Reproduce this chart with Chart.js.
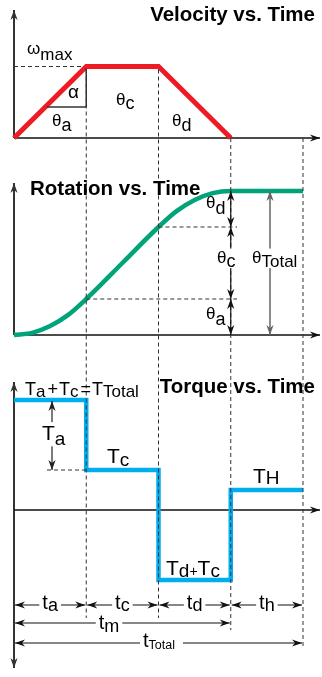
<!DOCTYPE html>
<html lang="en">
<head>
<meta charset="UTF-8">
<title>Velocity, Rotation and Torque vs. Time</title>
<script src="https://cdn.jsdelivr.net/npm/chart.js"></script>
<style>
  html, body { margin: 0; padding: 0; background: #fff; }
  #motion { display: block; }
</style>
</head>
<body>
<canvas id="motion" width="322" height="677"></canvas>
<script>
// phase boundaries: start, end of accel, end of constant speed, end of decel, end of hold
const phaseTimes = [0, 1, 2, 3, 4];

// velocity in units of ωmax
const velocityTimes = [0, 1, 2, 3];
const velocityValues = [0, 1, 1, 0];

// rotation: θa = 0.5, θc = 1, θd = 0.5, θTotal = 2
const rotationTimes = [0, 0.25, 0.5, 0.75, 1, 1.5, 2, 2.25, 2.5, 2.75, 3, 4];
const rotationValues = [0, 0.03, 0.125, 0.28, 0.5, 1, 1.5, 1.72, 1.875, 1.97, 2, 2];

// torque levels: TTotal, Tc, -(Td+Tc), TH
const torqueTimes = [0, 1, 2, 3, 4];
const torqueValues = [11, 4, -7, 2, 2];

const phaseLabels = [['t', 'a'], ['t', 'c'], ['t', 'd'], ['t', 'h']];

const FONT = '"Liberation Sans", Arial, sans-serif';
const H = 677;

function toPoints(xs, ys) {
  return xs.map((x, i) => ({ x: x, y: ys[i] }));
}

// min/max for an axis so that zero sits at zeroPx and one unit is unitPx tall
function band(zeroPx, unitPx) {
  return { min: -(H - zeroPx) / unitPx, max: zeroPx / unitPx };
}

function line(ctx, x1, y1, x2, y2, color, w, dash) {
  ctx.save();
  ctx.strokeStyle = color;
  ctx.lineWidth = w;
  ctx.setLineDash(dash || []);
  ctx.beginPath();
  ctx.moveTo(x1, y1);
  ctx.lineTo(x2, y2);
  ctx.stroke();
  ctx.restore();
}

function head(ctx, x, y, ang, color) {
  const len = 10, half = 3.6;
  ctx.save();
  ctx.fillStyle = color;
  ctx.translate(x, y);
  ctx.rotate(ang);
  ctx.beginPath();
  ctx.moveTo(0, 0);
  ctx.lineTo(-len, -half);
  ctx.lineTo(-len * 0.7, 0);
  ctx.lineTo(-len, half);
  ctx.closePath();
  ctx.fill();
  ctx.restore();
}

function arrow(ctx, x1, y1, x2, y2, color, w, both) {
  line(ctx, x1, y1, x2, y2, color, w);
  const a = Math.atan2(y2 - y1, x2 - x1);
  head(ctx, x2, y2, a, color);
  if (both) head(ctx, x1, y1, a + Math.PI, color);
}

// parts: [text, size, dy, weight, gapBefore]; x is left (or centre), y is baseline
function rich(ctx, parts, x, y, opts) {
  opts = opts || {};
  ctx.save();
  ctx.textBaseline = 'alphabetic';
  const widths = parts.map(p => {
    ctx.font = (p[3] || '') + ' ' + p[1] + 'px ' + FONT;
    return ctx.measureText(p[0]).width + (p[4] || 0);
  });
  const total = widths.reduce((a, b) => a + b, 0);
  let cx = opts.align === 'center' ? x - total / 2 : opts.align === 'right' ? x - total : x;
  if (opts.bg) {
    ctx.fillStyle = '#fff';
    ctx.fillRect(cx - opts.bg, y - parts[0][1] * 0.85, total + opts.bg * 2, parts[0][1] * 1.15);
  }
  ctx.fillStyle = opts.color || '#000';
  parts.forEach((p, i) => {
    ctx.font = (p[3] || '') + ' ' + p[1] + 'px ' + FONT;
    ctx.fillText(p[0], cx + (p[4] || 0), y + p[2]);
    cx += widths[i];
  });
  ctx.restore();
}

const diagram = {
  id: 'diagram',
  beforeDatasetsDraw(chart) {
    const ctx = chart.ctx;
    const X = v => chart.scales.x.getPixelForValue(v);
    const yV = v => chart.scales.yV.getPixelForValue(v);
    const yR = v => chart.scales.yR.getPixelForValue(v);
    const yT = v => chart.scales.yT.getPixelForValue(v);
    const x0 = X(0);
    const axisV = '#333', axisH = '#111';

    // velocity axes
    arrow(ctx, x0, yV(0), x0, 10, axisV, 2);
    arrow(ctx, x0, yV(0), 320, yV(0), axisH, 1.5);
    // rotation axes
    arrow(ctx, x0, yR(0), x0, 183, axisV, 2);
    arrow(ctx, x0, yR(0), 320, yR(0), axisH, 1.5);
    // torque axes
    arrow(ctx, x0, 668, x0, 382, axisV, 2, true);
    arrow(ctx, x0, yT(0), 320, yT(0), axisH, 1.5);
  },
  afterDatasetsDraw(chart) {
    const ctx = chart.ctx;
    const X = v => chart.scales.x.getPixelForValue(v);
    const yV = v => chart.scales.yV.getPixelForValue(v);
    const yR = v => chart.scales.yR.getPixelForValue(v);
    const yT = v => chart.scales.yT.getPixelForValue(v);
    const px = phaseTimes.map(X);
    const [x0, x1, x2, x3, x4] = px;
    const dash = [4, 3], dc = '#333';

    // phase boundaries
    line(ctx, x1, yV(1) + 3, x1, 618, dc, 1, dash);
    line(ctx, x2, yV(1) + 3, x2, 618, dc, 1, dash);
    line(ctx, x3, yV(0), x3, 630, dc, 1, dash);
    line(ctx, x4, yV(0), x4, 647, dc, 1, dash);

    // level guides
    line(ctx, x0, yV(1), x1 - 3, yV(1), dc, 1, dash);
    line(ctx, x1, yR(rotationValues[4]), 237, yR(rotationValues[4]), dc, 1, dash);
    line(ctx, x2, yR(rotationValues[6]), 237, yR(rotationValues[6]), dc, 1, dash);
    line(ctx, 47, yT(torqueValues[1]), x1, yT(torqueValues[1]), dc, 1, dash);

    // slope triangle
    line(ctx, x1, yV(1) + 2, x1, 107, '#333', 1.5);
    line(ctx, 47, 107, x1, 107, '#333', 1.5);

    // rotation arrows
    arrow(ctx, x3, yR(2), x3, yR(1.5), '#111', 1.2, true);
    arrow(ctx, x3, yR(1.5), x3, yR(0.5), '#111', 1.2, true);
    arrow(ctx, x3, yR(0.5), x3, yR(0), '#111', 1.2, true);
    arrow(ctx, 270, yR(2), 270, yR(0), '#666', 1.5, true);

    // torque Ta arrow
    arrow(ctx, 52, yT(torqueValues[0]) + 1, 52, yT(torqueValues[1]), '#222', 1.2, true);

    // time rows
    for (let i = 0; i < 4; i++) arrow(ctx, px[i] + 1, 605, px[i + 1] - 1, 605, '#111', 1.2, true);
    arrow(ctx, x0 + 1, 623, x3 - 1, 623, '#111', 1.2, true);
    arrow(ctx, x0 + 1, 643, x4 - 1, 643, '#111', 1.2, true);

    // titles
    rich(ctx, [['Velocity vs. Time', 20.5, 0, 'bold']], 315, 21, { align: 'right' });
    rich(ctx, [['Rotation vs. Time', 20.5, 0, 'bold']], 30, 195);
    rich(ctx, [['Torque vs. Time', 20.5, 0, 'bold']], 315, 393, { align: 'right' });

    // velocity labels
    rich(ctx, [['ω', 17, 0], ['max', 17, 6]], 27, 54);
    rich(ctx, [['α', 19, 0]], 68, 98);
    rich(ctx, [['θ', 17, 0], ['a', 18, 5]], 52, 126);
    rich(ctx, [['θ', 17, 0], ['c', 18, 4]], 116, 105);
    rich(ctx, [['θ', 17, 0], ['d', 18, 5]], 172, 126);

    // rotation labels
    rich(ctx, [['θ', 17, 0], ['d', 18, 6]], 206, 208);
    rich(ctx, [['θ', 17, 0], ['c', 18, 4]], 217, 263, { bg: 2 });
    rich(ctx, [['θ', 17, 0], ['Total', 17, 4]], 252, 263, { bg: 2 });
    rich(ctx, [['θ', 17, 0], ['a', 18, 6]], 206, 319);

    // torque labels
    rich(ctx, [['T', 18, 0], ['a', 17, 2], ['+', 18, 0, '', 2], ['T', 18, 0, '', 1], ['c', 17, 2],
               ['=', 18, 0, '', 2], ['T', 18, 0, '', 1], ['Total', 17, 2]], 25, 395);
    rich(ctx, [['T', 21, 0], ['a', 19, 5]], 42, 440, { bg: 1 });
    rich(ctx, [['T', 21, 0], ['c', 19, 3]], 107, 463);
    rich(ctx, [['T', 21, 0], ['H', 19, 1]], 253, 483);
    rich(ctx, [['T', 21, 0], ['d', 19, 2], ['+', 14, 1], ['T', 21, 0], ['c', 19, 2]], 166, 575);

    // time labels
    for (let i = 0; i < 4; i++) {
      const l = phaseLabels[i];
      rich(ctx, [[l[0], 20, 0], [l[1], 18, 2]], (px[i] + px[i + 1]) / 2, 609, { align: 'center', bg: 3 });
    }
    rich(ctx, [['t', 20, 0], ['m', 18, 3]], 109, 629, { align: 'center', bg: 3 });
    ctx.save();
    ctx.fillStyle = '#fff';
    ctx.fillRect(140, 636, 43, 14);
    ctx.restore();
    rich(ctx, [['t', 20, 0], ['Total', 12.5, 2]], 143, 647);
  }
};

new Chart(document.getElementById('motion'), {
  type: 'line',
  data: {
    datasets: [
      {
        label: 'Velocity',
        data: toPoints(velocityTimes, velocityValues),
        yAxisID: 'yV',
        borderColor: 'rgb(237, 28, 36)',
        borderWidth: 5,
        borderJoinStyle: 'miter',
        pointRadius: 0,
        tension: 0,
        clip: false
      },
      {
        label: 'Rotation',
        data: toPoints(rotationTimes, rotationValues),
        yAxisID: 'yR',
        borderColor: 'rgb(0, 163, 122)',
        borderWidth: 4.5,
        cubicInterpolationMode: 'monotone',
        pointRadius: 0,
        clip: false
      },
      {
        label: 'Torque',
        data: toPoints(torqueTimes, torqueValues),
        yAxisID: 'yT',
        borderColor: 'rgb(0, 174, 239)',
        borderWidth: 4.5,
        borderJoinStyle: 'miter',
        stepped: 'before',
        pointRadius: 0,
        clip: false
      }
    ]
  },
  options: {
    responsive: false,
    animation: false,
    events: [],
    layout: { padding: { left: 14, right: 19, top: 0, bottom: 0 } },
    plugins: { legend: { display: false }, tooltip: { enabled: false } },
    scales: {
      x: { type: 'linear', min: 0, max: 4, display: false },
      yV: Object.assign({ type: 'linear', display: false }, band(138, 71.5)),
      yR: Object.assign({ type: 'linear', display: false }, band(335, 72)),
      yT: Object.assign({ type: 'linear', display: false }, band(510, 10))
    }
  },
  plugins: [diagram]
});
</script>
</body>
</html>
